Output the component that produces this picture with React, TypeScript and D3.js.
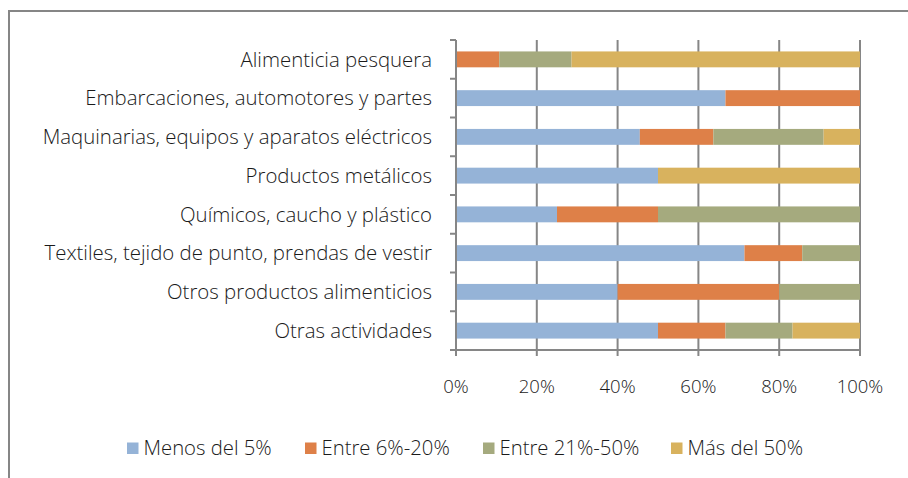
import React from "react";
import * as d3 from "d3";

const categories = [
  "Alimenticia pesquera",
  "Embarcaciones, automotores y partes",
  "Maquinarias, equipos y aparatos eléctricos",
  "Productos metálicos",
  "Químicos, caucho y plástico",
  "Textiles, tejido de punto, prendas de vestir",
  "Otros productos alimenticios",
  "Otras actividades",
];
const seriesNames = ["Menos del 5%", "Entre 6%-20%", "Entre 21%-50%", "Más del 50%"];
const menos5 = [0, 66.7, 45.5, 50, 25, 71.4, 40, 50];
const entre6_20 = [10.7, 33.3, 18.2, 0, 25, 14.3, 40, 16.7];
const entre21_50 = [17.9, 0, 27.3, 0, 50, 14.3, 20, 16.6];
const mas50 = [71.4, 0, 9.0, 50, 0, 0, 0, 16.7];
const colors = ["#95B3D7", "#DE8048", "#A5AA7E", "#D8B25E"];
const xTicks = [0, 20, 40, 60, 80, 100];

const FONT = "'Open Sans', 'Liberation Sans', Arial, sans-serif";
const GRID = "#868686";

export default function App() {
  const W = 908, H = 478;
  const x = d3.scaleLinear().domain([0, 100]).range([456, 860]);
  const y = d3.scaleBand<string>().domain(categories).range([40, 350]).paddingInner(0.59).paddingOuter(0.295);
  const bandStep = (350 - 40) / categories.length;
  const rows = categories.map((c, i) => ({ c, v: [menos5[i], entre6_20[i], entre21_50[i], mas50[i]] }));
  const stack = d3.stack<any>().keys(["0", "1", "2", "3"]).value((d: any, k: string) => d.v[+k]);
  const stacked = stack(rows as any);

  const legendX = [127, 305, 483, 671];

  return (
    <svg width={W} height={H} style={{ position: "absolute", left: 0, top: 0 }} fontFamily={FONT} fontWeight={300}>
      <rect x={0} y={0} width={W} height={H} fill="#fff" />
      <rect x={9} y={11} width={1200} height={1200} fill="none" stroke={GRID} strokeWidth={2} />
      {xTicks.filter((t) => t > 0).map((t) => (
        <line key={t} x1={x(t)} x2={x(t)} y1={40} y2={356} stroke={GRID} strokeWidth={2} />
      ))}
      {stacked.map((s: any, si: number) =>
        s.map((d: any, i: number) => {
          const w = x(d[1]) - x(d[0]);
          if (w <= 0) return null;
          return (
            <rect key={si + "-" + i} x={x(d[0])} y={y(categories[i])!} width={w} height={y.bandwidth()} fill={colors[si]} />
          );
        })
      )}
      <line x1={456} x2={456} y1={40} y2={356} stroke={GRID} strokeWidth={2} />
      <line x1={450} x2={861} y1={350} y2={350} stroke={GRID} strokeWidth={2} />
      {d3.range(categories.length + 1).map((i) => (
        <line key={i} x1={450} x2={456} y1={40 + i * bandStep} y2={40 + i * bandStep} stroke={GRID} strokeWidth={2} />
      ))}
      {categories.map((c) => (
        <text key={c} x={432} y={y(c)! + y.bandwidth() / 2} dy="0.36em" textAnchor="end" fontSize={20.4} fill="#1a1a1a">
          {c}
        </text>
      ))}
      {xTicks.map((t) => (
        <text key={t} x={x(t)} y={386} dy="0.36em" textAnchor="middle" fontSize={18.5} fill="#1a1a1a">
          {t + "%"}
        </text>
      ))}
      {seriesNames.map((n, i) => (
        <g key={n}>
          <rect x={legendX[i]} y={442.5} width={11.5} height={11.5} fill={colors[i]} />
          <text x={legendX[i] + 16.5} y={448} dy="0.36em" fontSize={20.3} fill="#1a1a1a">
            {n}
          </text>
        </g>
      ))}
    </svg>
  );
}
